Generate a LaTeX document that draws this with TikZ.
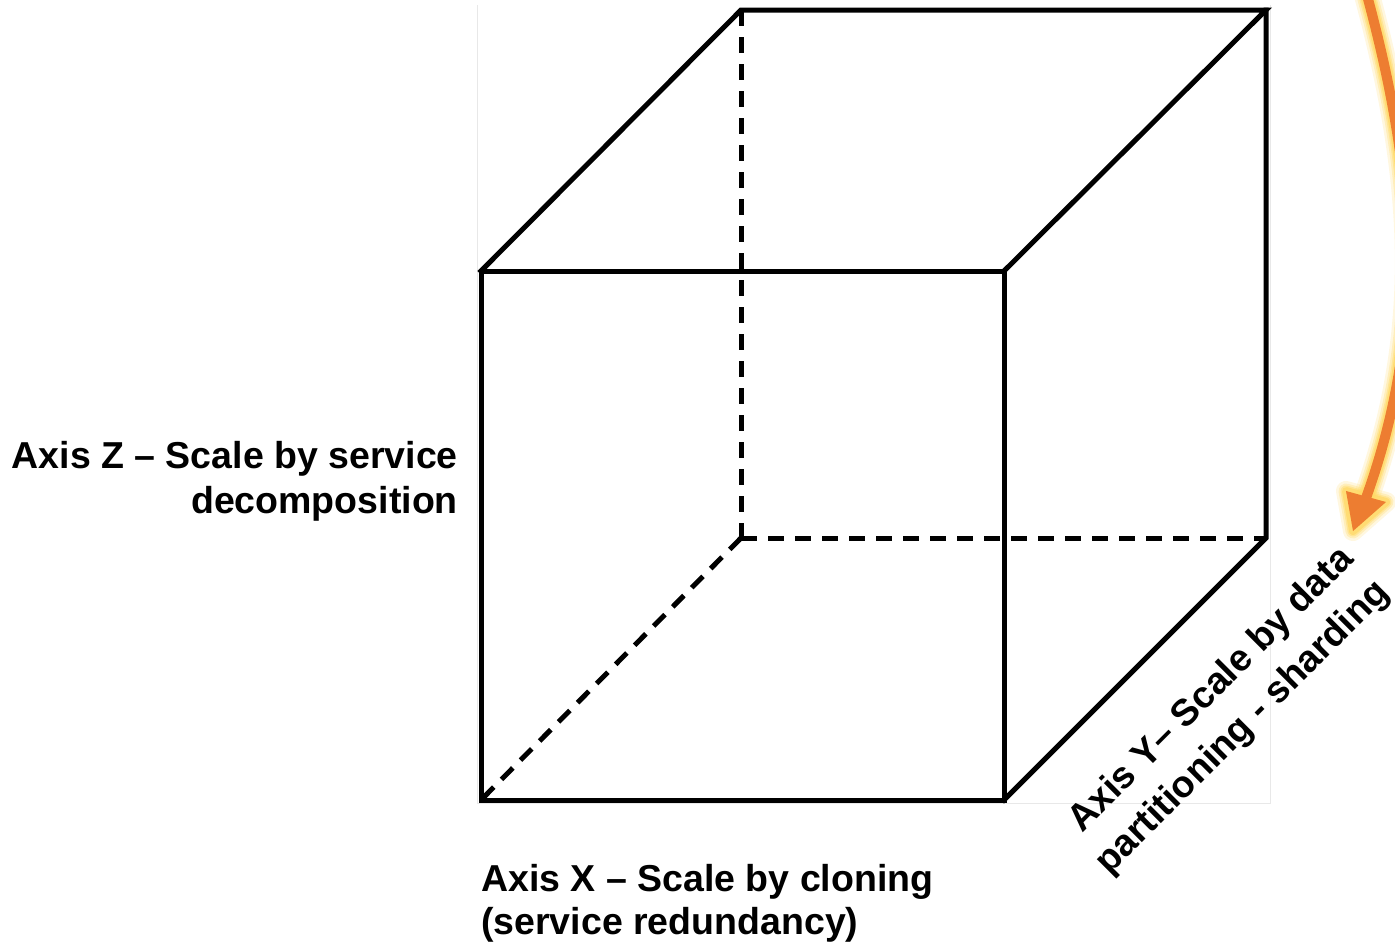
\documentclass[tikz,border=0pt]{standalone}
\usepackage{fontspec}
\setmainfont{Liberation Sans}
\usetikzlibrary{arrows.meta}
\definecolor{arroworange}{HTML}{ED7D31}
\definecolor{arrowglow}{HTML}{FFD966}
\begin{document}
\begin{tikzpicture}[x=1pt,y=-1pt,
  edge/.style={line width=5pt,line join=miter,line cap=rect},
  hidden/.style={line width=5pt,dash pattern=on 16pt off 11pt},
  frame/.style={line width=1pt,draw=black!9},
  axislabel/.style={inner sep=0pt,font=\bfseries\fontsize{37.5}{44}\selectfont},
  glow/.style={draw=arrowglow,line cap=round,line join=round}]
\useasboundingbox (0,0) rectangle (1395,946);

% faint outline of the cube panel
\draw[frame] (477,5) -- (477,803) -- (1270,803) -- (1270,5);

% cube corners: front face and back face
\coordinate (ftl) at (481,271);
\coordinate (ftr) at (1004,271);
\coordinate (fbr) at (1004,800);
\coordinate (fbl) at (481,800);
\coordinate (btl) at (741,10);
\coordinate (btr) at (1266,10);
\coordinate (bbr) at (1266,538);
\coordinate (bbl) at (741,538);

% hidden edges
\draw[hidden] (btl) -- (bbl);
\draw[hidden] (bbl) -- (bbr);
\draw[hidden] (bbl) -- (fbl);

% visible edges
\draw[edge] (ftl) -- (ftr) -- (fbr) -- (fbl) -- cycle;
\draw[edge] (ftl) -- (btl) -- (btr) -- (ftr);
\draw[edge] (btr) -- (bbr) -- (fbr);

% axis labels
\node[axislabel,anchor=base east] (zlabelA) at (458,468) {Axis Z -- Scale by service};
\node[axislabel,anchor=base east] (zlabelB) at (458,513) {decomposition};
\node[axislabel,anchor=base west] (xlabelA) at (481,891) {Axis X -- Scale by cloning};
\node[axislabel,anchor=base west] (xlabelB) at (481,934) {(service redundancy)};
\node[axislabel,anchor=base,rotate=45] (ylabelA) at (1219,697) {Axis Y-- Scale by data};
\node[axislabel,anchor=base,rotate=45] (ylabelB) at (1250,735) {partitioning - sharding};

% curved orange arrow with a soft yellow glow
\coordinate (arcstart) at (1360,-30);
\coordinate (arcend) at (1366,498);
\coordinate (tip) at (1353,531);
\coordinate (barbL) at (1346,491);
\coordinate (barbR) at (1386,502);
\foreach \w/\o in {26/0.2,21/0.3,17/0.45,14/0.7}{
  \draw[glow,line width=\w pt,opacity=\o]
    (arcstart) .. controls (1417,170) and (1428,325) .. (arcend);
  \draw[glow,line width=\w pt-6pt,opacity=\o,fill=arrowglow]
    (barbL) -- (tip) -- (barbR) -- cycle;
}
\draw[arroworange,line width=10pt]
  (arcstart) .. controls (1417,170) and (1428,325) .. (arcend);
\fill[arroworange] (barbL) -- (tip) -- (barbR) -- cycle;
\end{tikzpicture}
\end{document}
